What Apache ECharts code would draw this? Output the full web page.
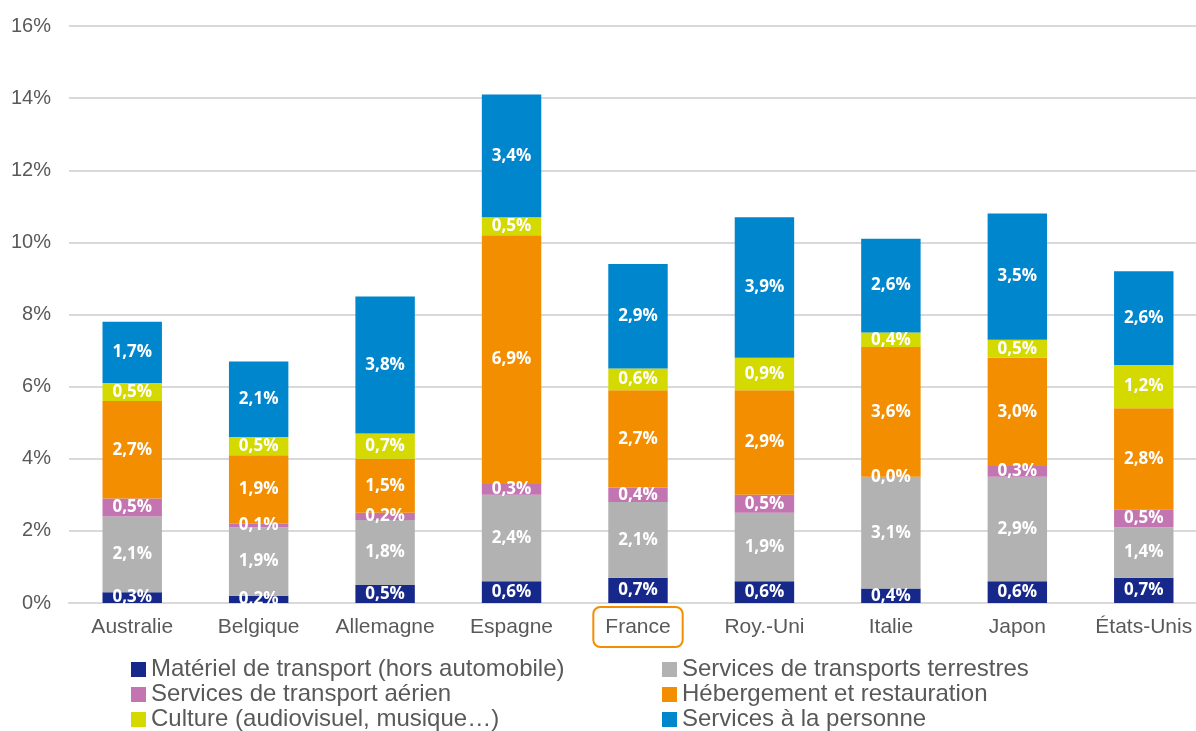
<!DOCTYPE html>
<html>
<head>
<meta charset="utf-8">
<script src="https://cdn.jsdelivr.net/npm/echarts@6/dist/echarts.min.js"></script>
<style>
  html, body { margin: 0; padding: 0; background: #fff; }
  #chart { width: 1196px; height: 731px; }
</style>
</head>
<body>
<div id="chart"></div>
<script>
// données en %
var pays = ['Australie', 'Belgique', 'Allemagne', 'Espagne', 'France', 'Roy.-Uni', 'Italie', 'Japon', 'États-Unis'];
var materiel    = [0.3, 0.2, 0.5, 0.6, 0.7, 0.6, 0.4, 0.6, 0.7];
var terrestres  = [2.1, 1.9, 1.8, 2.4, 2.1, 1.9, 3.1, 2.9, 1.4];
var aerien      = [0.5, 0.1, 0.2, 0.3, 0.4, 0.5, 0.0, 0.3, 0.5];
var hebergement = [2.7, 1.9, 1.5, 6.9, 2.7, 2.9, 3.6, 3.0, 2.8];
var culture     = [0.5, 0.5, 0.7, 0.5, 0.6, 0.9, 0.4, 0.5, 1.2];
var personne    = [1.7, 2.1, 3.8, 3.4, 2.9, 3.9, 2.6, 3.5, 2.6];
var yTicks = [0, 2, 4, 6, 8, 10, 12, 14, 16];

var noms = [
  'Matériel de transport (hors automobile)',
  'Services de transports terrestres',
  'Services de transport aérien',
  'Hébergement et restauration',
  'Culture (audiovisuel, musique…)',
  'Services à la personne'
];
var couleurs = ['#17288B', '#B2B2B2', '#C275B1', '#F28E00', '#D4D900', '#0086CD'];
var valeurs = [materiel, terrestres, aerien, hebergement, culture, personne];

var series = [];
for (var i = 0; i < noms.length; i++) {
  series.push({
    name: noms[i],
    type: 'bar',
    stack: 'total',
    barWidth: '47%',
    data: valeurs[i],
    itemStyle: { color: couleurs[i] },
    label: {
      show: true,
      position: 'inside',
      color: '#fff',
      fontFamily: 'Open Sans',
      fontWeight: 'bold',
      fontSize: 17,
      formatter: function (p) {
        return p.value.toFixed(1).replace('.', ',') + '%';
      }
    }
  });
}

var legendText = { color: '#595959', fontSize: 24, fontFamily: 'Liberation Sans', lineHeight: 25 };

var option = {
  animation: false,
  textStyle: { fontFamily: 'Liberation Sans' },
  grid: { left: 69, top: 26, right: -11, bottom: 128, outerBoundsMode: 'none' },
  legend: [
    {
      orient: 'vertical', left: 126, top: 652, height: 100, icon: 'rect',
      itemWidth: 15, itemHeight: 15, itemGap: 0,
      data: [noms[0], noms[2], noms[4]], textStyle: legendText,
      selectedMode: false
    },
    {
      orient: 'vertical', left: 657, top: 652, height: 100, icon: 'rect',
      itemWidth: 15, itemHeight: 15, itemGap: 0,
      data: [noms[1], noms[3], noms[5]], textStyle: legendText,
      selectedMode: false
    }
  ],
  xAxis: {
    type: 'category',
    data: pays,
    axisTick: { show: false },
    axisLine: { lineStyle: { color: '#D9D9D9', width: 2 } },
    axisLabel: {
      interval: 0,
      color: '#595959',
      fontSize: 21,
      margin: 4,
      formatter: function (v) {
        return v === 'France' ? '{fr|' + v + '}' : '{n|' + v + '}';
      },
      rich: {
        n: {
          color: '#595959',
          fontSize: 21,
          padding: [10, 0, 9, 0]
        },
        fr: {
          color: '#595959',
          fontSize: 21,
          borderColor: '#F28E00',
          borderWidth: 2,
          borderRadius: 7,
          padding: [10, 12, 9, 12]
        }
      }
    }
  },
  yAxis: {
    type: 'value',
    min: yTicks[0],
    max: yTicks[yTicks.length - 1],
    interval: 2,
    axisLabel: { color: '#595959', fontSize: 20, margin: 18, formatter: '{value}%' },
    splitLine: { lineStyle: { color: '#D9D9D9', width: 2 } }
  },
  series: series
};

echarts.init(document.getElementById('chart')).setOption(option);
</script>
</body>
</html>
